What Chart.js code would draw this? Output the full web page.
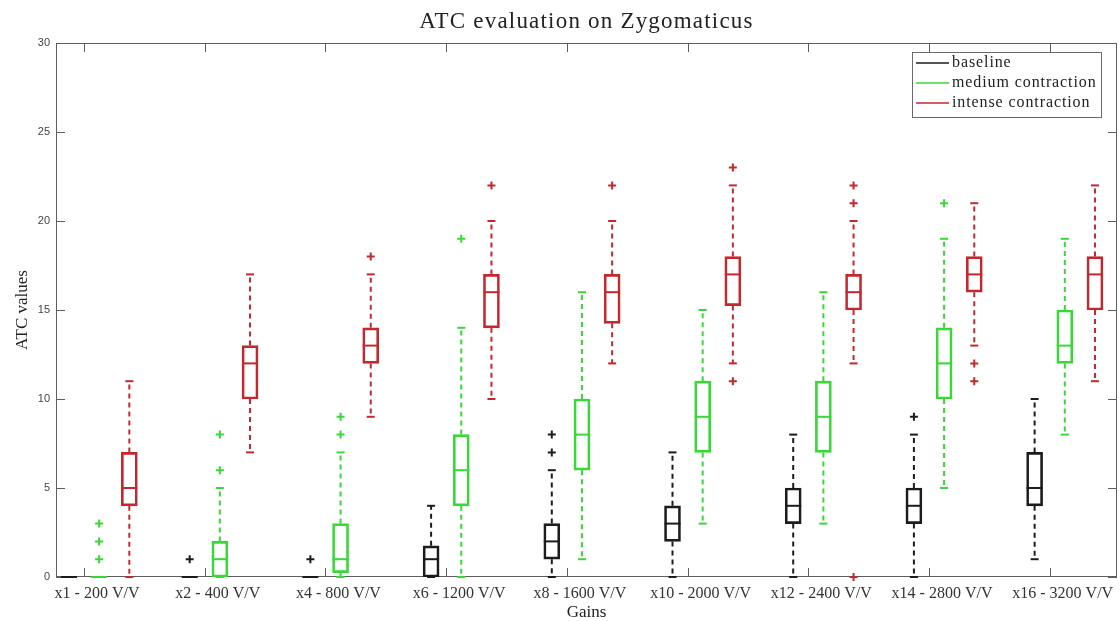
<!DOCTYPE html>
<html>
<head>
<meta charset="utf-8">
<script src="https://cdn.jsdelivr.net/npm/chart.js@4.4.1/dist/chart.umd.min.js"></script>
<style>
  html, body { margin: 0; padding: 0; background: #ffffff; }
  #wrap { width: 1120px; height: 621px; }
</style>
</head>
<body>
<div id="wrap"><canvas id="atc" width="1120" height="621"></canvas></div>
<script>
// Gain settings along the x axis
const gains = ['x1 - 200 V/V', 'x2 - 400 V/V', 'x4 - 800 V/V', 'x6 - 1200 V/V', 'x8 - 1600 V/V',
               'x10 - 2000 V/V', 'x12 - 2400 V/V', 'x14 - 2800 V/V', 'x16 - 3200 V/V'];
const yTicks = [0, 5, 10, 15, 20, 25, 30];

// Baseline: whisker ends, quartiles, median and outliers per gain
const baselineMin = [0, 0, 0, 0, 0, 0, 0, 0, 1];
const baselineQ1  = [0, 0, 0, 0, 1, 2, 3, 3, 4];
const baselineMed = [0, 0, 0, 1, 2, 3, 4, 4, 5];
const baselineQ3  = [0, 0, 0, 1.75, 3, 4, 5, 5, 7];
const baselineMax = [0, 0, 0, 4, 6, 7, 8, 8, 10];
const baselineOut = [[], [1], [1], [], [7, 8], [], [], [9], []];

// Medium contraction
const mediumMin = [0, 0, 0, 0, 1, 3, 3, 5, 8];
const mediumQ1  = [0, 0, 0.25, 4, 6, 7, 7, 10, 12];
const mediumMed = [0, 1, 1, 6, 8, 9, 9, 12, 13];
const mediumQ3  = [0, 2, 3, 8, 10, 11, 11, 14, 15];
const mediumMax = [0, 5, 7, 14, 16, 15, 16, 19, 19];
const mediumOut = [[1, 2, 3], [6, 8], [8, 9], [19], [], [], [], [21], []];

// Intense contraction
const intenseMin = [0, 7, 9, 10, 12, 12, 12, 13, 11];
const intenseQ1  = [4, 10, 12, 14, 14.25, 15.25, 15, 16, 15];
const intenseMed = [5, 12, 13, 16, 16, 17, 16, 17, 17];
const intenseQ3  = [7, 13, 14, 17, 17, 18, 17, 18, 18];
const intenseMax = [11, 17, 17, 20, 20, 22, 20, 21, 22];
const intenseOut = [[], [], [18], [22], [22], [23, 11], [22, 21, 0], [12, 11], []];

const seriesNames = ['baseline', 'medium contraction', 'intense contraction'];
const seriesColors = ['#1c1c1c', '#36d936', '#c4282e'];

const SERIF = '"Liberation Serif", "Times New Roman", serif';
const SANS = '"Liberation Sans", Arial, sans-serif';

// Each gain occupies 4 x-units: three boxes side by side plus a gap
function slotX(group, slot) { return 4 * group + slot; }

function boxSeries(slot, lo, q1, med, q3, hi, out) {
  const color = seriesColors[slot];
  const xs = gains.map((_, g) => slotX(g, slot));
  const whiskers = [];
  xs.forEach((x, g) => {
    whiskers.push({ x, y: q3[g] }, { x, y: hi[g] }, { x, y: null },
                  { x, y: q1[g] }, { x, y: lo[g] }, { x, y: null });
  });
  const pointCommon = {
    type: 'scatter', showLine: false, clip: false,
    borderColor: color, backgroundColor: color,
    pointBorderColor: color, pointBackgroundColor: color, pointBorderWidth: 2
  };
  return [
    { // interquartile box
      type: 'bar', label: seriesNames[slot],
      data: xs.map((x, g) => ({ x, y: [q1[g], q3[g]] })),
      backgroundColor: 'rgba(0,0,0,0)', borderColor: color, borderWidth: 2,
      borderSkipped: false, barThickness: 16, grouped: false
    },
    { // dashed whiskers
      type: 'line', data: whiskers, borderColor: color, borderWidth: 2,
      borderDash: [5, 4], pointRadius: 0, spanGaps: false, fill: false, clip: false
    },
    Object.assign({ // whisker caps
      data: xs.flatMap((x, g) => [{ x, y: lo[g] }, { x, y: hi[g] }]),
      pointStyle: 'line', pointRadius: 4
    }, pointCommon),
    Object.assign({ // medians
      data: xs.map((x, g) => ({ x, y: med[g] })),
      pointStyle: 'line', pointRadius: 8
    }, pointCommon),
    Object.assign({ // outliers
      data: xs.flatMap((x, g) => out[g].map(v => ({ x, y: v }))),
      pointStyle: 'cross', pointRadius: 4
    }, pointCommon)
  ];
}

const datasets = [
  ...boxSeries(0, baselineMin, baselineQ1, baselineMed, baselineQ3, baselineMax, baselineOut),
  ...boxSeries(1, mediumMin, mediumQ1, mediumMed, mediumQ3, mediumMax, mediumOut),
  ...boxSeries(2, intenseMin, intenseQ1, intenseMed, intenseQ3, intenseMax, intenseOut)
];

// Box frame with inward ticks, title and legend
const framePlugin = {
  id: 'frame',
  beforeDatasetsDraw(chart) {
    const { ctx, chartArea: a, scales: { x, y } } = chart;
    const len = 9;
    ctx.save();
    ctx.strokeStyle = '#5e5e5e';
    ctx.lineWidth = 1;
    ctx.strokeRect(Math.round(a.left) + 0.5, Math.round(a.top) + 0.5,
                   Math.round(a.right - a.left) - 1, Math.round(a.bottom - a.top) - 1);
    ctx.beginPath();
    y.ticks.forEach(t => {
      const py = Math.round(y.getPixelForValue(t.value)) + 0.5;
      ctx.moveTo(a.left, py); ctx.lineTo(a.left + len, py);
      ctx.moveTo(a.right, py); ctx.lineTo(a.right - len, py);
    });
    x.ticks.forEach(t => {
      const px = Math.round(x.getPixelForValue(t.value)) + 0.5;
      ctx.moveTo(px, a.bottom); ctx.lineTo(px, a.bottom - len);
      ctx.moveTo(px, a.top); ctx.lineTo(px, a.top + len);
    });
    ctx.stroke();
    ctx.restore();
  },
  afterDraw(chart) {
    const { ctx, chartArea: a } = chart;
    ctx.save();
    // title
    ctx.fillStyle = '#222';
    ctx.font = '23px ' + SERIF;
    ctx.letterSpacing = '1.2px';
    ctx.textAlign = 'center';
    ctx.textBaseline = 'middle';
    ctx.fillText('ATC evaluation on Zygomaticus', (a.left + a.right) / 2, 22);
    // legend
    const lx = a.right - 205, ly = a.top + 9, lw = 189, lh = 65;
    ctx.fillStyle = '#fff';
    ctx.fillRect(lx, ly, lw, lh);
    ctx.strokeStyle = '#6a6a6a';
    ctx.lineWidth = 1;
    ctx.strokeRect(lx + 0.5, ly + 0.5, lw, lh);
    ctx.font = '16px ' + SERIF;
    ctx.letterSpacing = '0.9px';
    ctx.textAlign = 'left';
    seriesNames.forEach((name, i) => {
      const ry = ly + 11 + i * 20;
      ctx.strokeStyle = seriesColors[i];
      ctx.lineWidth = 1.5;
      ctx.beginPath();
      ctx.moveTo(lx + 4, ry); ctx.lineTo(lx + 37, ry);
      ctx.stroke();
      ctx.fillStyle = '#222';
      ctx.fillText(name, lx + 40, ry);
    });
    ctx.restore();
  }
};

new Chart(document.getElementById('atc'), {
  type: 'bar',
  data: { datasets },
  plugins: [framePlugin],
  options: {
    responsive: false,
    animation: false,
    events: [],
    devicePixelRatio: 1,
    layout: { autoPadding: false, padding: { top: 43, right: 3, bottom: 0, left: 0 } },
    plugins: { legend: { display: false }, tooltip: { enabled: false }, title: { display: false } },
    scales: {
      x: {
        type: 'linear', min: -0.43, max: 34.73, offset: false,
        grid: { display: false, drawTicks: false, offset: false }, border: { display: false },
        afterBuildTicks: s => { s.ticks = gains.map((_, g) => ({ value: slotX(g, 0.5) })); },
        afterFit: s => { s.height = 44; s.paddingLeft = 0; s.paddingRight = 0; },
        ticks: {
          autoSkip: false, maxRotation: 0, minRotation: 0, labelOffset: 13, padding: 7,
          color: '#333', font: { family: SERIF, size: 16 },
          callback: (v, i) => gains[i]
        },
        title: { display: true, text: 'Gains', color: '#222',
                 font: { family: SERIF, size: 17, lineHeight: 1 }, padding: { top: -1, bottom: 0 } }
      },
      y: {
        min: 0, max: 30,
        grid: { display: false, drawTicks: false }, border: { display: false },
        afterBuildTicks: s => { s.ticks = yTicks.map(v => ({ value: v })); },
        afterFit: s => { s.width = 56; s.paddingTop = 0; s.paddingBottom = 0; },
        ticks: { color: '#444', padding: 6, font: { family: SANS, size: 11 } },
        title: { display: true, text: 'ATC values', color: '#222',
                 font: { family: SERIF, size: 17 }, padding: { top: 12, bottom: 0 } }
      }
    }
  }
});
</script>
</body>
</html>
